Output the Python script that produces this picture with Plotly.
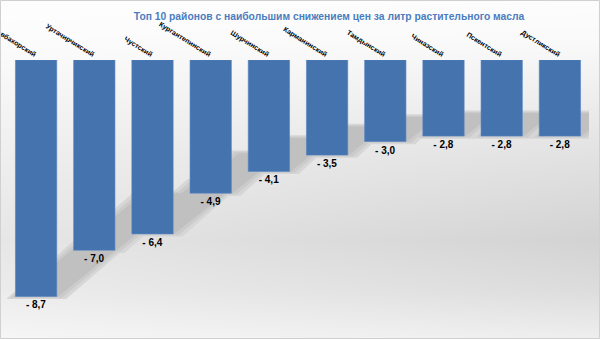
import base64
import struct
import zlib

import numpy as np
import plotly.graph_objects as go

# --- data -------------------------------------------------------------
districts = [
    "Навбахорский", "Уртачирчикский", "Чустский", "Кургантепинский",
    "Шурчинский", "Карманинский", "Тамдынский", "Чиназский",
    "Пскентский", "Дустликский",
]
price_change = [-8.7, -7.0, -6.4, -4.9, -4.1, -3.5, -3.0, -2.8, -2.8, -2.8]
value_labels = ["- " + f"{abs(v):.1f}".replace(".", ",") for v in price_change]

title_text = "Топ 10 районов с наибольшим снижением цен за литр растительного масла"

# --- geometry ---------------------------------------------------------
W, H = 600, 339
M_L, M_R, M_T, M_B = 7, 11, 60, 10
Y_MIN = -9.9
BARGAP = 0.29
plot_w = W - M_L - M_R
plot_h = H - M_T - M_B
px_per_cat = plot_w / len(districts)
px_per_unit = plot_h / abs(Y_MIN)


def png_data_uri(rgb):
    """Encode an HxWx3 uint8 array as a PNG data URI."""
    h, w, _ = rgb.shape
    raw = b"".join(b"\x00" + rgb[r].tobytes() for r in range(h))

    def chunk(tag, data):
        return (struct.pack(">I", len(data)) + tag + data
                + struct.pack(">I", zlib.crc32(tag + data) & 0xFFFFFFFF))

    png = (b"\x89PNG\r\n\x1a\n"
           + chunk(b"IHDR", struct.pack(">IIBBBBB", w, h, 8, 2, 0, 0, 0))
           + chunk(b"IDAT", zlib.compress(raw, 9))
           + chunk(b"IEND", b""))
    return "data:image/png;base64," + base64.b64encode(png).decode()


# soft grey background: white at the top, darkest in the lower middle,
# a little lighter toward the left
yy = np.arange(H)
xx = np.arange(W)
dark_y = np.interp(yy, [0, 40, 150, 240, 290, 339], [2, 5, 28, 44, 34, 16])
fx = 0.55 + 0.45 * xx / (W - 1)
dark = dark_y[:, None] * fx[None, :]
bg = np.clip(255 - dark, 0, 255).astype(np.uint8)
bg_rgb = np.repeat(bg[:, :, None], 3, axis=2)
bg_uri = png_data_uri(bg_rgb)

# --- perspective shadows behind the bars ------------------------------
bar_w = 1 - BARGAP
shapes = []
layers = [
    (0.16, 0.10, "#d6d6d6"),
    (0.09, 0.05, "#cbcbcb"),
    (0.02, 0.0, "#c0c0c0"),
]
for grow_x, grow_y, col in layers:
    for i, v in enumerate(price_change):
        h = abs(v)
        dy = 0.3 * h
        dx = 1.25 * dy * px_per_unit / px_per_cat
        x0 = i - bar_w / 2 - grow_x
        x1 = i + bar_w / 2 + grow_x
        yb = v - grow_y
        yt = v + dy + grow_y
        path = (f"M {x0},{yb} L {x1},{yb} L {x1 + dx},{yt} "
                f"L {x0 + dx},{yt} Z")
        shapes.append(dict(type="path", path=path, xref="x", yref="y",
                           fillcolor=col, line=dict(width=0), layer="below"))

# thin frame around the whole chart
shapes.append(dict(
    type="rect", xref="paper", yref="paper",
    x0=(-M_L + 0.5) / plot_w, x1=1 + (M_R - 0.5) / plot_w,
    y0=(-M_B + 0.5) / plot_h, y1=1 + (M_T - 0.5) / plot_h,
    line=dict(color="#d0d0d0", width=1), fillcolor="rgba(0,0,0,0)",
    layer="above",
))

fig = go.Figure()
fig.add_trace(go.Bar(
    x=list(range(len(districts))),
    y=price_change,
    text=value_labels,
    textposition="outside",
    textfont=dict(family="Liberation Sans, Arial", size=10, color="#000000",
                  weight="bold"),
    marker=dict(color="#4473ae", line=dict(color="#5585c2", width=0.6)),
    cliponaxis=False,
    hoverinfo="skip",
))

fig.update_layout(
    width=W, height=H,
    margin=dict(l=M_L, r=M_R, t=M_T, b=M_B, pad=0, autoexpand=False),
    paper_bgcolor="rgba(0,0,0,0)",
    plot_bgcolor="rgba(0,0,0,0)",
    bargap=BARGAP,
    showlegend=False,
    title=dict(
        text=title_text,
        x=(329 - M_L) / plot_w, xref="paper", xanchor="center",
        y=1 - 16 / H, yref="container", yanchor="middle",
        font=dict(family="Liberation Sans, Arial", size=10.3, color="#4a7dbf",
                  weight="bold"),
    ),
    xaxis=dict(
        side="top",
        automargin=False,
        range=[-0.5, len(districts) - 0.5],
        tickmode="array",
        tickvals=list(range(len(districts))),
        ticktext=districts,
        tickangle=32,
        ticklabeloverflow="allow",
        tickfont=dict(family="Liberation Sans, Arial", size=7, color="#000000",
                      weight="bold"),
        showgrid=False, zeroline=False, showline=False, ticks="",
    ),
    yaxis=dict(
        range=[Y_MIN, 0],
        visible=False,
        showgrid=False, zeroline=False,
    ),
    shapes=shapes,
    images=[dict(
        source=bg_uri, xref="paper", yref="paper",
        x=-M_L / plot_w, y=1 + M_T / plot_h,
        sizex=W / plot_w, sizey=H / plot_h,
        xanchor="left", yanchor="top", sizing="stretch", layer="below",
    )],
)

fig.write_html("out.html")
